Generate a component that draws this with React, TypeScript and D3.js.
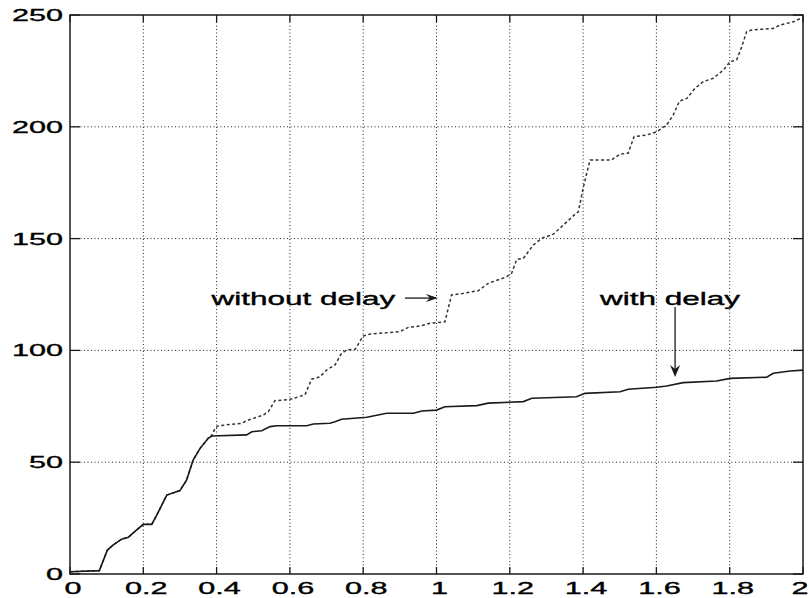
import React from "react";
import * as d3 from "d3";

const xTicks = [0, 0.2, 0.4, 0.6, 0.8, 1, 1.2, 1.4, 1.6, 1.8, 2];
const yTicks = [0, 50, 100, 150, 200, 250];

const withDelayX = [0, 0.08, 0.102, 0.118, 0.141, 0.159, 0.182, 0.2, 0.223, 0.237, 0.264, 0.3, 0.318, 0.336, 0.355, 0.377, 0.387, 0.482, 0.496, 0.523, 0.546, 0.564, 0.646, 0.664, 0.709, 0.723, 0.741, 0.81, 0.864, 0.937, 0.96, 1.0, 1.023, 1.11, 1.141, 1.237, 1.26, 1.382, 1.405, 1.501, 1.523, 1.601, 1.628, 1.673, 1.764, 1.801, 1.901, 1.919, 1.965, 2.0];
const withDelayY = [1, 1.5, 10.7, 13, 15.6, 16.4, 19.7, 22.2, 22.2, 26.4, 35.3, 37.3, 42, 51, 56.2, 60.7, 61.7, 62.2, 63.6, 64.1, 65.9, 66.3, 66.3, 67.1, 67.4, 68.1, 69.2, 70.1, 71.9, 71.9, 72.9, 73.3, 74.8, 75.3, 76.4, 77.1, 78.6, 79.3, 80.8, 81.5, 82.6, 83.5, 84.1, 85.6, 86.3, 87.5, 88, 89.8, 90.8, 91.2];

const withoutDelayX = [0, 0.08, 0.102, 0.118, 0.141, 0.159, 0.182, 0.2, 0.223, 0.237, 0.264, 0.3, 0.318, 0.336, 0.355, 0.377, 0.387, 0.396, 0.405, 0.468, 0.487, 0.5, 0.527, 0.541, 0.559, 0.6, 0.641, 0.659, 0.682, 0.7, 0.723, 0.741, 0.755, 0.778, 0.8, 0.819, 0.9, 0.923, 0.955, 0.982, 1.023, 1.041, 1.073, 1.114, 1.141, 1.173, 1.192, 1.205, 1.219, 1.237, 1.264, 1.287, 1.319, 1.351, 1.378, 1.387, 1.401, 1.419, 1.478, 1.501, 1.523, 1.539, 1.573, 1.601, 1.628, 1.646, 1.663, 1.683, 1.705, 1.728, 1.755, 1.783, 1.801, 1.819, 1.833, 1.846, 1.86, 1.919, 1.937, 1.974, 2.0];
const withoutDelayY = [1, 1.5, 10.7, 13, 15.6, 16.4, 19.7, 22.2, 22.2, 26.4, 35.3, 37.3, 42, 51, 56.2, 60.7, 62, 65.2, 66.3, 67.4, 68.9, 69.6, 71.1, 72.6, 77.5, 78.1, 80.1, 87.1, 88.2, 91.2, 93.5, 98.7, 100.2, 100.5, 106.4, 107.3, 108.4, 110.3, 110.9, 112.1, 112.8, 124.8, 125.5, 126.7, 130, 131.8, 133, 134.5, 140.7, 141.2, 147.1, 150.1, 152, 156.8, 160.9, 162, 173.2, 185.2, 185.2, 187.8, 188.2, 195.6, 196.3, 197.8, 200.8, 205.3, 211.5, 212.7, 217.2, 220.2, 221.7, 225.4, 229.1, 229.9, 235.8, 242.5, 243.3, 244, 245.5, 247, 249];

const labelWithout = "without delay";
const labelWith = "with delay";

export default function App() {
  const W = 809, H = 598;
  const L = 70, R = 803, T = 15, B = 574;
  const x = d3.scaleLinear().domain([0, 2]).range([L, R]);
  const y = d3.scaleLinear().domain([0, 250]).range([B, T]);
  const line = d3.line<[number, number]>().x(d => x(d[0])).y(d => y(d[1]));
  const wd = line(withDelayX.map((v, i) => [v, withDelayY[i]] as [number, number])) || "";
  const wod = line(withoutDelayX.map((v, i) => [v, withoutDelayY[i]] as [number, number])) || "";
  const ink = "#1a1a1a";
  const font = "'Liberation Sans', Arial, Helvetica, sans-serif";
  const sx = 1.8;
  const fmt = (v: number) => String(v);

  // annotation geometry (data coordinates)
  const a1 = { tx: 0.386, ty: 120.3, ax0: 0.914, ax1: 1.004, ay: 123.4 };
  const a2 = { tx: 1.446, ty: 120.3, ax: 1.651, ay0: 119.4, ay1: 88.1 };

  return (
    <svg width={W} height={H} style={{ position: "absolute", left: 0, top: 0, background: "#fff" }}>
      <rect x={0} y={0} width={W} height={H} fill="#fff" />
      {/* grid */}
      {xTicks.slice(1, -1).map(t => (
        <line key={"gx" + t} x1={x(t)} x2={x(t)} y1={T} y2={B} stroke="#222" strokeWidth={1} strokeDasharray="1,2.5" />
      ))}
      {yTicks.slice(1, -1).map(t => (
        <line key={"gy" + t} x1={L} x2={R} y1={y(t)} y2={y(t)} stroke="#222" strokeWidth={1} strokeDasharray="1,2.5" />
      ))}
      {/* ticks */}
      {xTicks.map(t => (
        <g key={"tx" + t}>
          <line x1={x(t)} x2={x(t)} y1={B} y2={B - 7} stroke={ink} strokeWidth={1.3} />
          <line x1={x(t)} x2={x(t)} y1={T} y2={T + 7} stroke={ink} strokeWidth={1.3} />
        </g>
      ))}
      {yTicks.map(t => (
        <g key={"ty" + t}>
          <line x1={L} x2={L + 10} y1={y(t)} y2={y(t)} stroke={ink} strokeWidth={1.3} />
          <line x1={R} x2={R - 10} y1={y(t)} y2={y(t)} stroke={ink} strokeWidth={1.3} />
        </g>
      ))}
      {/* frame */}
      <rect x={L} y={T} width={R - L} height={B - T} fill="none" stroke={ink} strokeWidth={1.5} />
      {/* tick labels */}
      {xTicks.map(t => (
        <text key={"lx" + t} transform={`translate(${Math.min(x(t) + 3, 800)},594) scale(${sx},1)`} textAnchor="middle" fontFamily={font} fontSize={17} fill="#000" stroke="#000" strokeWidth={0.35}>{fmt(t)}</text>
      ))}
      {yTicks.map(t => (
        <text key={"ly" + t} transform={`translate(63,${y(t) + 6}) scale(${sx},1)`} textAnchor="end" fontFamily={font} fontSize={17} fill="#000" stroke="#000" strokeWidth={0.35}>{fmt(t)}</text>
      ))}
      {/* series */}
      <path d={wod} fill="none" stroke="#333" strokeWidth={1.5} strokeDasharray="3,2.5" />
      <path d={wd} fill="none" stroke={ink} strokeWidth={1.6} />
      {/* annotations */}
      <text transform={`translate(${x(a1.tx)},${y(a1.ty)}) scale(1.75,1)`} fontFamily={font} fontSize={18} fill="#000" stroke="#000" strokeWidth={0.35}>{labelWithout}</text>
      <line x1={x(a1.ax0)} x2={x(a1.ax1) - 6} y1={y(a1.ay)} y2={y(a1.ay)} stroke={ink} strokeWidth={1.3} />
      <path d={`M${x(a1.ax1)},${y(a1.ay)} L${x(a1.ax1) - 12},${y(a1.ay) - 4} L${x(a1.ax1) - 8},${y(a1.ay)} L${x(a1.ax1) - 12},${y(a1.ay) + 4} Z`} fill={ink} />
      <text transform={`translate(${x(a2.tx)},${y(a2.ty)}) scale(1.75,1)`} fontFamily={font} fontSize={18} fill="#000" stroke="#000" strokeWidth={0.35}>{labelWith}</text>
      <line x1={x(a2.ax)} x2={x(a2.ax)} y1={y(a2.ay0)} y2={y(a2.ay1) - 6} stroke={ink} strokeWidth={1.3} />
      <path d={`M${x(a2.ax)},${y(a2.ay1)} L${x(a2.ax) - 5},${y(a2.ay1) - 12} L${x(a2.ax)},${y(a2.ay1) - 8} L${x(a2.ax) + 5},${y(a2.ay1) - 12} Z`} fill={ink} />
    </svg>
  );
}
